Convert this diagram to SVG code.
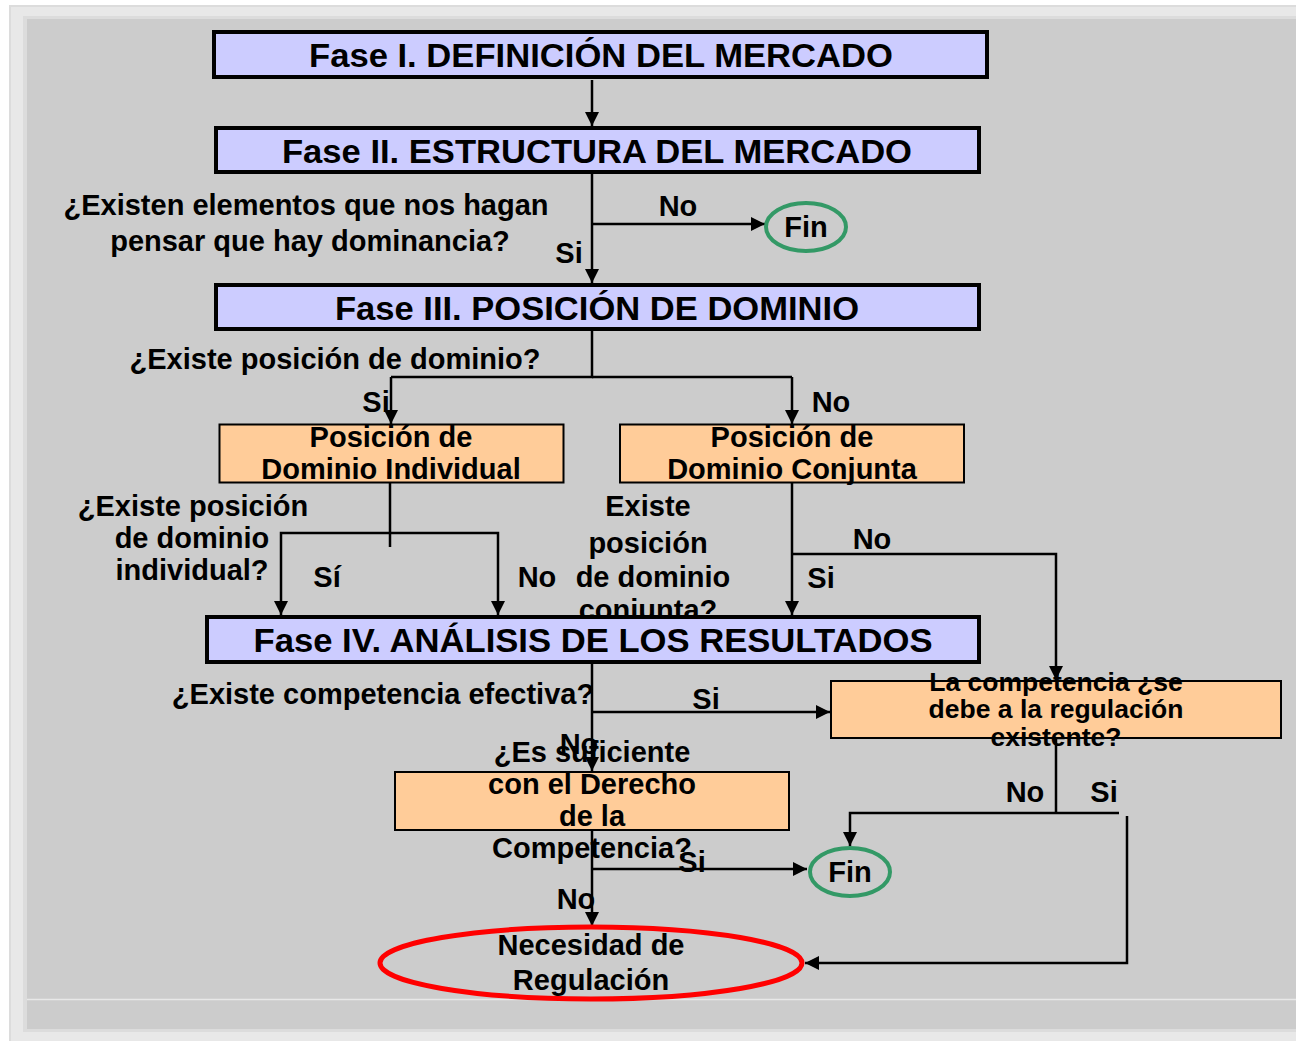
<svg xmlns="http://www.w3.org/2000/svg" width="1296" height="1041" viewBox="0 0 1296 1041">
<defs>
<marker id="ah" markerUnits="userSpaceOnUse" markerWidth="14" markerHeight="14" viewBox="0 0 14 14" refX="14" refY="7" orient="auto">
<path d="M0,0 L14,7 L0,14 Z" fill="#000"/>
</marker>
<style>
text{font-family:"Liberation Sans",Arial,sans-serif;font-weight:bold;fill:#000;text-anchor:middle}
.t28{font-size:29px}
.t27{font-size:26.5px}
.t34{font-size:34px}
.fase{fill:#ccccff;stroke:#000;stroke-width:4}
.ora{fill:#ffcc99;stroke:#000;stroke-width:2}
.fin{fill:none;stroke:#339966;stroke-width:4}
.c{fill:none;stroke:#000;stroke-width:2.5}
.ca{fill:none;stroke:#000;stroke-width:2.5;marker-end:url(#ah)}
</style>
</defs>
<rect x="0" y="0" width="1296" height="1041" fill="#ffffff"/>
<rect x="10" y="6" width="1290" height="1040" fill="#e8e8e8" stroke="#dcdcdc" stroke-width="2"/>
<rect x="23" y="16" width="1280" height="1016" fill="#dcdcdc"/>
<rect x="27" y="19" width="1275" height="1010" fill="#cccccc"/>
<line x1="27" y1="999.5" x2="1296" y2="999.5" stroke="#e8e8e8" stroke-width="1.5"/>

<g id="behind-labels">
<text class="t28" x="648" y="516">Existe</text>
<text class="t28" x="648" y="553">posición</text>
<text class="t28" x="653" y="587">de dominio</text>
<text class="t28" x="648" y="620">conjunta?</text>
</g>

<g id="connectors">
<line class="ca" x1="592" y1="80" x2="592" y2="126"/>
<line class="ca" x1="592" y1="174" x2="592" y2="283"/>
<line class="ca" x1="592" y1="224" x2="765" y2="224"/>
<polyline class="c" points="592,331 592,377 391,377"/>
<line class="c" x1="592" y1="377" x2="792" y2="377"/>
<line class="ca" x1="391" y1="377" x2="391" y2="424"/>
<line class="ca" x1="792" y1="377" x2="792" y2="424"/>
<line class="c" x1="390" y1="483" x2="390" y2="547"/>
<polyline class="ca" points="391,533 281,533 281,615"/>
<polyline class="ca" points="390,533 498,533 498,615"/>
<line class="ca" x1="792" y1="483" x2="792" y2="615"/>
<polyline class="ca" points="792,554 1056,554 1056,680"/>
<line class="ca" x1="592" y1="664" x2="592" y2="771"/>
<line class="ca" x1="592" y1="712" x2="830" y2="712"/>
<line class="c" x1="1056" y1="738" x2="1056" y2="813"/>
<polyline class="ca" points="1119,813 850,813 850,846"/>
<polyline class="ca" points="1127,816 1127,963 805,963"/>
<line class="ca" x1="592" y1="830" x2="592" y2="926"/>
<line class="ca" x1="592" y1="869" x2="807" y2="869"/>
</g>

<g id="labels">
<text class="t28" x="306" y="215">¿Existen elementos que nos hagan</text>
<text class="t28" x="310" y="251">pensar que hay dominancia?</text>
<text class="t28" x="678" y="216">No</text>
<text class="t28" x="569" y="263">Si</text>
<text class="t28" x="335" y="369">¿Existe posición de dominio?</text>
<text class="t28" x="376" y="412">Si</text>
<text class="t28" x="831" y="412">No</text>
<text class="t28" x="193" y="516">¿Existe posición</text>
<text class="t28" x="192" y="548">de dominio</text>
<text class="t28" x="192" y="580">individual?</text>
<text class="t28" x="327" y="587">Sí</text>
<text class="t28" x="537" y="587">No</text>
<text class="t28" x="872" y="549">No</text>
<text class="t28" x="821" y="588">Si</text>
<text class="t28" x="383" y="704">¿Existe competencia efectiva?</text>
<text class="t28" x="706" y="709">Si</text>
<text class="t28" x="579" y="754">No</text>
<text class="t28" x="1025" y="802">No</text>
<text class="t28" x="1104" y="802">Si</text>
<text class="t28" x="692" y="872">Si</text>
<text class="t28" x="576" y="909">No</text>
</g>

<g id="fase1">
<rect class="fase" x="214" y="32" width="773" height="45"/>
<text class="t34" x="601" y="67" textLength="584" lengthAdjust="spacingAndGlyphs">Fase I. DEFINICIÓN DEL MERCADO</text>
</g>
<g id="fase2">
<rect class="fase" x="216" y="128" width="763" height="44"/>
<text class="t34" x="597" y="163" textLength="630" lengthAdjust="spacingAndGlyphs">Fase II. ESTRUCTURA DEL MERCADO</text>
</g>
<g id="fin1">
<ellipse class="fin" cx="806" cy="227" rx="40" ry="24"/>
<text class="t28" x="806" y="237">Fin</text>
</g>
<g id="fase3">
<rect class="fase" x="216" y="285" width="763" height="44"/>
<text class="t34" x="597" y="320" textLength="524" lengthAdjust="spacingAndGlyphs">Fase III. POSICIÓN DE DOMINIO</text>
</g>
<g id="individual">
<rect class="ora" x="219.5" y="424.5" width="344" height="58"/>
<text class="t28" x="391" y="447">Posición de</text>
<text class="t28" x="391" y="479">Dominio Individual</text>
</g>
<g id="conjunta">
<rect class="ora" x="620" y="424.5" width="344" height="58"/>
<text class="t28" x="792" y="447">Posición de</text>
<text class="t28" x="792" y="479">Dominio Conjunta</text>
</g>
<g id="fase4">
<rect class="fase" x="207" y="617" width="772" height="45"/>
<text class="t34" x="593" y="652" textLength="679" lengthAdjust="spacingAndGlyphs">Fase IV. ANÁLISIS DE LOS RESULTADOS</text>
</g>
<g id="regulacion-existente">
<rect class="ora" x="831" y="681" width="450" height="57"/>
<text class="t27" x="1056" y="691">La competencia ¿se</text>
<text class="t27" x="1056" y="718">debe a la regulación</text>
<text class="t27" x="1056" y="746">existente?</text>
</g>
<g id="suficiente">
<rect class="ora" x="395" y="772" width="394" height="58"/>
<text class="t28" x="592" y="762">¿Es suficiente</text>
<text class="t28" x="592" y="794">con el Derecho</text>
<text class="t28" x="592" y="826">de la</text>
<text class="t28" x="592" y="858">Competencia?</text>
</g>
<g id="fin2">
<ellipse class="fin" cx="850" cy="872" rx="40" ry="24"/>
<text class="t28" x="850" y="882">Fin</text>
</g>
<g id="necesidad">
<ellipse cx="591" cy="963" rx="211" ry="36" fill="none" stroke="#ff0000" stroke-width="5"/>
<text class="t28" x="591" y="955">Necesidad de</text>
<text class="t28" x="591" y="990">Regulación</text>
</g>
</svg>
